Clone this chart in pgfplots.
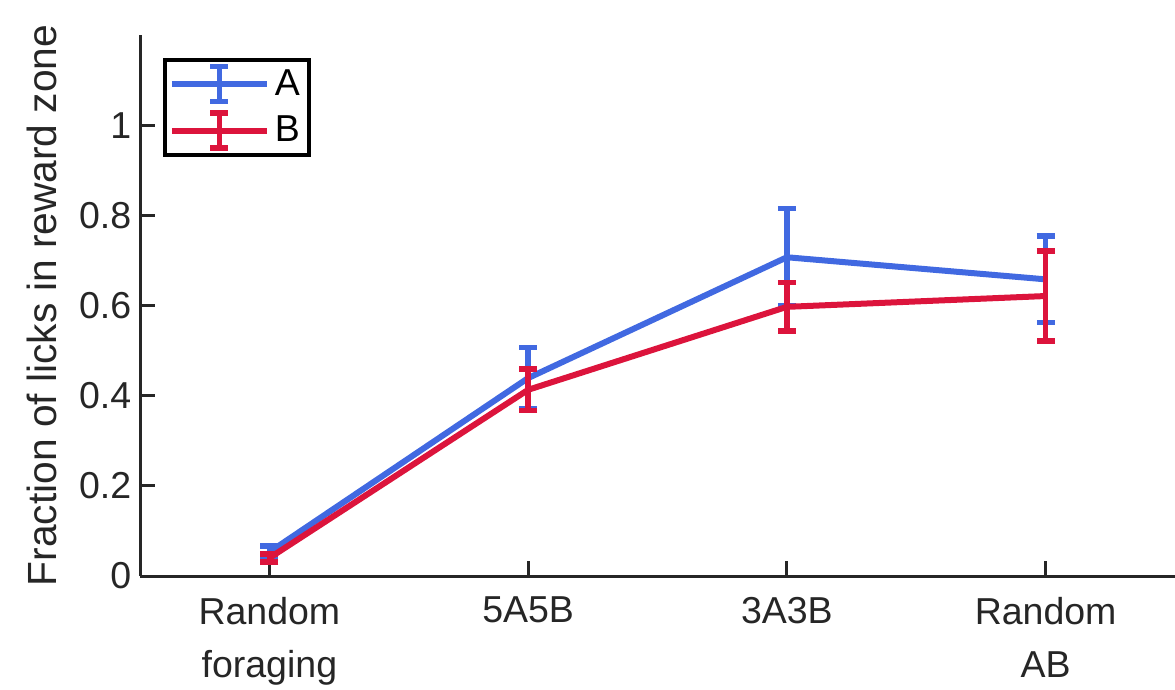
\documentclass[border=0pt]{standalone}
\usepackage{pgfplots}
\pgfplotsset{compat=1.18}
\usepackage{fontspec}
\setmainfont{Liberation Sans}
\usetikzlibrary{calc}
\definecolor{lineA}{RGB}{65,105,225}
\definecolor{lineB}{RGB}{220,20,60}
\definecolor{axgray}{RGB}{38,38,38}

\pgfplotsset{
  errline/.style={
    line width=2.4pt, no marks,
    /pgfplots/error bars/y dir=both,
    /pgfplots/error bars/y explicit,
    /pgfplots/error bars/error bar style={line width=2.2pt},
    /pgfplots/error bars/error mark options={rotate=90, mark size=3.6pt, line width=2.2pt},
    /pgfplots/legend image code/.code={
      \draw[line width=2.4pt] (0pt,0pt) -- (38pt,0pt);
      \draw[line width=2.2pt] (19pt,-7pt) -- (19pt,7pt);
      \draw[line width=2.2pt] (15.4pt,-7pt) -- (22.6pt,-7pt);
      \draw[line width=2.2pt] (15.4pt,7pt) -- (22.6pt,7pt);
    },
  },
}

\begin{document}
\begin{tikzpicture}
\begin{axis}[
  scale only axis, width=414pt, height=216.4pt,
  xmin=0.5, xmax=4.5, ymin=0, ymax=1.2,
  axis x line=bottom, axis y line=left,
  axis line style={-, line width=1.2pt, axgray},
  xtick={1,2,3,4},
  xticklabels={Random\\foraging, 5A5B, 3A3B, Random\\AB},
  xticklabel style={align=center, font=\fontsize{15}{21.2}\selectfont, text=axgray, yshift=-4.8pt},
  ytick={0,0.2,0.4,0.6,0.8,1},
  yticklabels={0,0.2,0.4,0.6,0.8,1},
  yticklabel style={font=\fontsize{15}{17}\selectfont, text=axgray},
  tick style={axgray, line width=1.2pt},
  tick align=inside, major tick length=6pt,
  ylabel={Fraction of licks in reward zone},
  ylabel style={font=\fontsize{16.3}{18}\selectfont, text=axgray, yshift=2pt},
  legend style={at={(0,1)}, anchor=north west, xshift=9.2pt, yshift=-9.2pt,
    draw=black, line width=1.6pt, font=\fontsize{15}{17}\selectfont,
    row sep=2.5pt, inner sep=1.5pt},
  legend cell align=left,
  clip=false,
]
\addplot[lineA, errline] coordinates {
  (1,0.053) +- (0,0.013)
  (2,0.439) +- (0,0.068)
  (3,0.707) +- (0,0.108)
  (4,0.658) +- (0,0.096)
};
\addlegendentry{A}
\addplot[lineB, errline] coordinates {
  (1,0.040) +- (0,0.009)
  (2,0.413) +- (0,0.046)
  (3,0.597) +- (0,0.054)
  (4,0.621) +- (0,0.100)
};
\addlegendentry{B}
\coordinate (bl) at (rel axis cs:0,0);
\coordinate (tr) at (rel axis cs:1,1);
\end{axis}
\pgfresetboundingbox
\path[use as bounding box] ($(bl)+(-56pt,-45.2pt)$) rectangle ($(tr)+(0,14pt)$);
\end{tikzpicture}
\end{document}
